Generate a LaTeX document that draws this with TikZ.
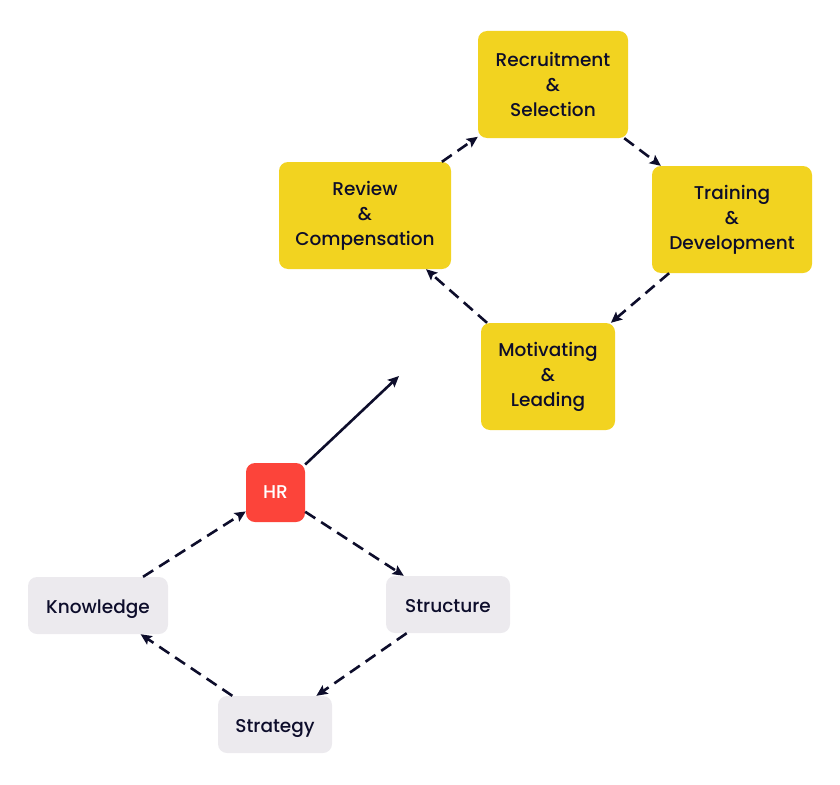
\documentclass[tikz,border=0pt]{standalone}
\usepackage{fontspec}
\setmainfont{Poppins}[UprightFont=* Medium]
\usetikzlibrary{arrows.meta}
\definecolor{ybox}{HTML}{F2D320}
\definecolor{rbox}{HTML}{FC443A}
\definecolor{gbox}{HTML}{ECEAEE}
\definecolor{navy}{HTML}{0D0D2B}
\begin{document}
\begin{tikzpicture}[x=1pt,y=-1pt,
  box/.style={rectangle,rounded corners=9pt,inner sep=0pt,align=center,text=navy,font=\fontsize{18.5}{25}\selectfont},
  ybx/.style={box,fill=ybox},
  gbx/.style={box,fill=gbox,text height=16pt,text depth=1pt},
  rbx/.style={box,fill=rbox,text=white},
  conn/.style={draw=navy,line width=2.6pt,dash pattern=on 12pt off 7pt,-{Stealth[length=11pt,width=10pt,inset=2pt]}},
  solidconn/.style={draw=navy,line width=2.6pt,-{Stealth[length=11pt,width=10pt,inset=2pt]}}]
\useasboundingbox (0,0) rectangle (840,784);
\node[ybx,minimum width=150pt,minimum height=107pt] (rec) at (553,84.5) {Recruitment\\\&\\Selection};
\node[ybx,minimum width=160pt,minimum height=107pt] (tra) at (732,219.5) {Training\\\&\\Development};
\node[ybx,minimum width=134pt,minimum height=107pt] (mot) at (548,376.5) {Motivating\\\&\\Leading};
\node[ybx,minimum width=172pt,minimum height=107pt] (rev) at (365,215.5) {Review\\\&\\Compensation};
\node[rbx,minimum width=59pt,minimum height=59pt] (hr) at (275.5,492.5) {HR};
\node[gbx,minimum width=140pt,minimum height=57pt] (kno) at (98,605.5) {Knowledge};
\node[gbx,minimum width=124pt,minimum height=57pt] (str) at (448,604.5) {Structure};
\node[gbx,minimum width=114pt,minimum height=57pt] (stg) at (275,724.5) {Strategy};
\coordinate (free) at (399,376);
\draw[conn] (rec) -- (tra);
\draw[conn] (tra) -- (mot);
\draw[conn] (mot) -- (rev);
\draw[conn] (rev) -- (rec);
\draw[conn] (hr) -- (str);
\draw[conn] (str) -- (stg);
\draw[conn] (stg) -- (kno);
\draw[conn] (kno) -- (hr);
\draw[solidconn] (hr) -- (free);
\end{tikzpicture}
\end{document}
